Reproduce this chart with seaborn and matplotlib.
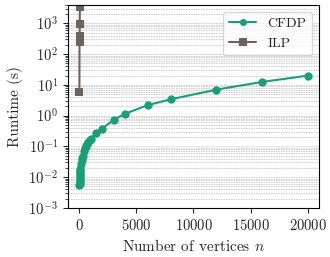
import matplotlib
matplotlib.use("Agg")
import matplotlib.pyplot as plt
import numpy as np
import pandas as pd
import seaborn as sns

# data
cfdp_n = [10, 20, 30, 40, 50, 60, 70, 80, 90, 100, 150, 200, 250, 300, 400, 500, 600, 700, 800,
          900, 1000, 1500, 2000, 3000, 4000, 6000, 8000, 12000, 16000, 20000]
cfdp_t = [0.0055, 0.006, 0.007, 0.008, 0.009, 0.011, 0.012, 0.014, 0.016, 0.018, 0.026, 0.035,
          0.043, 0.05, 0.07, 0.09, 0.1, 0.12, 0.14, 0.16, 0.18, 0.27, 0.38, 0.72, 1.15, 2.2, 3.4,
          7.0, 12.5, 20.0]
ilp_n = [10, 20, 30, 40, 50]
ilp_t = [6.0, 250.0, 380.0, 950.0, 3500.0]

df = pd.concat([
    pd.DataFrame({"n": cfdp_n, "t": cfdp_t, "method": "CFDP"}),
    pd.DataFrame({"n": ilp_n, "t": ilp_t, "method": "ILP"}),
])

sns.set_style("ticks")
plt.rcParams.update({
    "font.family": "serif",
    "font.serif": ["cmr10"],
    "mathtext.fontset": "cm",
    "axes.formatter.use_mathtext": True,
    "font.size": 10.5,
})

fig = plt.figure(figsize=(3.3, 2.57), dpi=100)
ax = fig.add_axes([0.206, 0.191, 0.761, 0.790])

sns.lineplot(data=df, x="n", y="t", hue="method", style="method",
             markers={"CFDP": "o", "ILP": "s"}, dashes=False, sort=False,
             palette={"CFDP": "#1b9e77", "ILP": "#6e625a"},
             markersize=6, markeredgewidth=0, linewidth=1.5, ax=ax)

ax.set_yscale("log")
ax.set_ylim(1e-3, 4e3)
ax.set_xticks([0, 5000, 10000, 15000, 20000])
ax.yaxis.set_major_locator(matplotlib.ticker.LogLocator(base=10, numticks=10))
ax.yaxis.set_minor_locator(matplotlib.ticker.LogLocator(base=10, subs=np.arange(2, 10), numticks=100))
ax.grid(True, axis="y", which="both", color="#c8c8c8", linestyle=(0, (2, 1)), linewidth=0.6)
ax.set_axisbelow(True)
for s in ax.spines.values():
    s.set_visible(True)
    s.set_color("black")
ax.tick_params(axis="both", labelsize=10.5)

ax.set_xlabel("Number of vertices $n$", fontsize=11)
ax.set_ylabel("Runtime (s)", fontsize=11)
ax.legend(loc="upper right", fontsize=10, title=None, handlelength=2.0, markerscale=0.85)

fig.savefig("out.png", dpi=100)
